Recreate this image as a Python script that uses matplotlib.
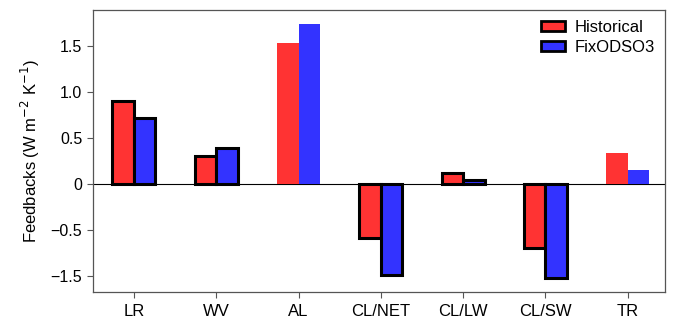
import numpy as np
import matplotlib
matplotlib.use("Agg")
import matplotlib.pyplot as plt
from matplotlib.patches import Patch

plt.rcParams['font.family'] = ['Liberation Sans', 'DejaVu Sans']

# feedback terms and values
categories = ["LR", "WV", "AL", "CL/NET", "CL/LW", "CL/SW", "TR"]
historical = [0.90, 0.30, 1.53, -0.67, 0.12, -0.90, 0.34]
fixodso3 = [0.72, 0.39, 1.74, -1.49, 0.04, -1.55, 0.15]
# bars drawn with a black outline
outlined = [True, True, False, True, True, True, False]
yticks = [1.5, 1.0, 0.5, 0, -0.5, -1.5]
ytick_labels = ["1.5", "1.0", "0.5", "0", "\u22120.5", "\u22121.5"]


# the axis below -0.5 is compressed by half
def forward(y):
    y = np.asarray(y, dtype=float)
    return np.where(y < -0.5, -0.5 + (y + 0.5) / 2, y)


def inverse(y):
    y = np.asarray(y, dtype=float)
    return np.where(y < -0.5, -0.5 + (y + 0.5) * 2, y)


fig = plt.figure(figsize=(6.75, 3.23), dpi=100)
ax = fig.add_axes([0.1373, 0.096, 0.8477, 0.873])
ax.set_yscale('function', functions=(forward, inverse))

x = np.arange(len(categories))
w = 0.26
red = "#ff3333"
blue = "#3333ff"
for i in range(len(categories)):
    lw = 2.2 if outlined[i] else 0
    ax.bar(x[i] - w / 2, historical[i], w, color=red, edgecolor="black", linewidth=lw, zorder=3)
    ax.bar(x[i] + w / 2, fixodso3[i], w, color=blue, edgecolor="black", linewidth=lw, zorder=3)

ax.axhline(0, color="black", linewidth=0.8, zorder=2)

ax.set_xlim(-0.5, 6.45)
ax.set_ylim(-1.85, 1.89)
ax.set_xticks(x)
ax.set_xticklabels(categories, fontsize=12)
ax.set_yticks(yticks)
ax.set_yticklabels(ytick_labels, fontsize=11.5)
ax.yaxis.set_minor_locator(matplotlib.ticker.NullLocator())
ax.tick_params(length=4, width=0.8, color="#555555")
ax.tick_params(axis='x', pad=5)
ax.set_ylabel("Feedbacks (W m$^{-2}$ K$^{-1}$)", fontsize=12, labelpad=6)
for s in ax.spines.values():
    s.set_color("#555555")
    s.set_linewidth(0.9)

handles = [Patch(facecolor=red, edgecolor="black", linewidth=2),
           Patch(facecolor=blue, edgecolor="black", linewidth=2)]
ax.legend(handles, ["Historical", "FixODSO3"], loc="upper right", frameon=False,
          fontsize=12, handlelength=1.45, handleheight=0.5, labelspacing=0.3,
          handletextpad=0.55, borderaxespad=0.2)

fig.savefig("out.png", dpi=100)
